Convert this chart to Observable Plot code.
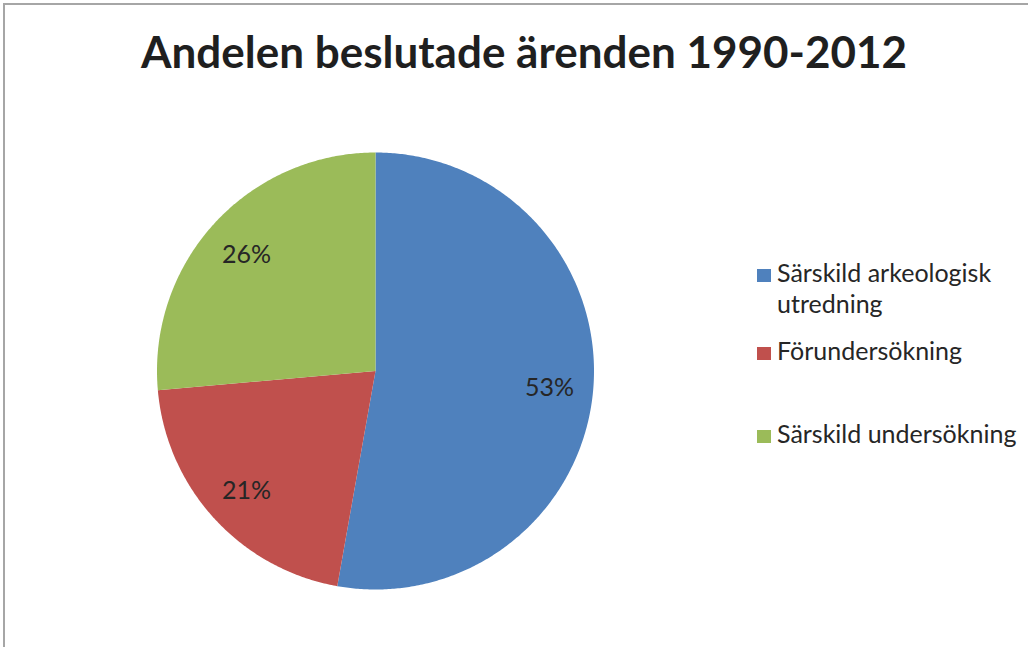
<!DOCTYPE html>
<html>
<head>
<meta charset="utf-8">
<script src="https://cdn.jsdelivr.net/npm/d3@7"></script>
<script src="https://cdn.jsdelivr.net/npm/@observablehq/plot@0.6"></script>
<style>
  html, body { margin: 0; padding: 0; background: #fff; }
  #wrap { position: relative; width: 1028px; height: 647px; overflow: hidden; font-family: Lato, "Open Sans", sans-serif; color: #262626; }
  #frame { position: absolute; left: 3px; top: 3px; width: 1100px; height: 700px; border-left: 2px solid #a6a6a6; border-top: 2px solid #a6a6a6; }
  #title { position: absolute; left: 10px; top: 29px; width: 1028px; text-align: center; font-weight: bold; font-size: 44px; line-height: 44px; white-space: nowrap; color: #1f1f1f; }
  #chart { position: absolute; left: 0; top: 0; }
  .item { position: absolute; left: 757px; font-size: 25px; line-height: 31px; }
  .item .sw { position: absolute; left: 0; top: 12px; width: 14px; height: 13px; }
  .item .tx { position: absolute; left: 20px; top: 0; width: 250px; }
  .item:nth-child(1) { top: 257px; }
  .item:nth-child(2) { top: 335px; }
  .item:nth-child(3) { top: 418px; }
</style>
</head>
<body>
<div id="wrap">
  <div id="frame"></div>
  <div id="chart"></div>
  <div id="title"></div>
  <div id="legend"></div>
</div>
<script>
const titleText = "Andelen beslutade ärenden 1990-2012";
const categories = ["Särskild arkeologisk utredning", "Förundersökning", "Särskild undersökning"];
const shares = [52.8, 20.8, 26.4];
const labels = ["53%", "21%", "26%"];
const colors = ["#4F81BD", "#C0504D", "#9BBB59"];

document.getElementById("title").textContent = titleText;

const total = d3.sum(shares);
const ends = Array.from(d3.cumsum(shares), v => v / total * 2 * Math.PI);
const slices = categories.map((c, i) => ({name: c, a0: i ? ends[i - 1] : 0, a1: ends[i], label: labels[i]}));

const pts = slices.flatMap(s => {
  const n = Math.max(2, Math.ceil((s.a1 - s.a0) / (Math.PI / 360)));
  const arr = [{name: s.name, x: 0, y: 0}];
  for (let k = 0; k <= n; k++) {
    const a = s.a0 + (s.a1 - s.a0) * k / n;
    arr.push({name: s.name, x: Math.sin(a), y: Math.cos(a)});
  }
  arr.push({name: s.name, x: 0, y: 0});
  return arr;
});

const chart = Plot.plot({
  width: 1028,
  height: 647,
  margin: 0,
  style: {background: "transparent", overflow: "visible"},
  x: {domain: [-1, 1], range: [156.5, 593.5], axis: null},
  y: {domain: [-1, 1], range: [589, 152], axis: null},
  color: {domain: categories, range: colors},
  marks: [
    Plot.line(pts, {x: "x", y: "y", z: "name", fill: "name", stroke: "none", curve: "linear"}),
    Plot.text(slices, {
      x: d => 0.8 * Math.sin((d.a0 + d.a1) / 2),
      y: d => 0.8 * Math.cos((d.a0 + d.a1) / 2),
      text: "label",
      fontSize: 25,
      dy: 2,
      fontFamily: "Lato, 'Open Sans', sans-serif",
      fill: "#262626"
    })
  ]
});
document.getElementById("chart").appendChild(chart);

const legend = document.getElementById("legend");
categories.forEach((c, i) => {
  const item = document.createElement("div");
  item.className = "item";
  const sw = document.createElement("div");
  sw.className = "sw";
  sw.style.background = colors[i];
  const tx = document.createElement("div");
  tx.className = "tx";
  tx.textContent = c;
  item.appendChild(sw);
  item.appendChild(tx);
  legend.appendChild(item);
});
</script>
</body>
</html>
